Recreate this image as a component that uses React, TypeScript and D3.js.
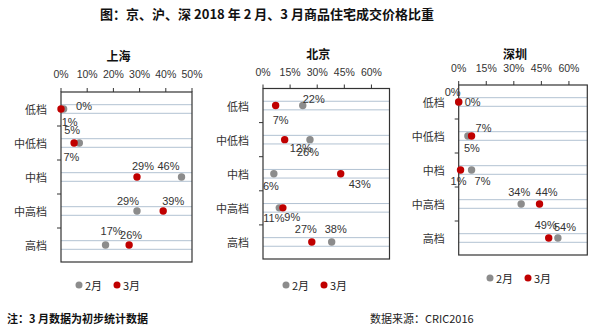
import React from "react";
import * as d3 from "d3";

const categories = ["低档", "中低档", "中档", "中高档", "高档"];
const seriesNames = ["2月", "3月"];
const seriesColors = ["#8c8c8c", "#c00000"];

const shFeb = [1, 7, 46, 29, 17];
const shMar = [0, 5, 29, 39, 26];
const bjFeb = [22, 26, 6, 9, 38];
const bjMar = [7, 12, 43, 11, 27];
const szFeb = [0, 5, 7, 34, 54];
const szMar = [0, 7, 1, 44, 49];

const shTicks = [0, 10, 20, 30, 40, 50];
const bjTicks = [0, 15, 30, 45, 60];
const szTicks = [0, 15, 30, 45, 60];

// label offsets (layout only) [dx, dy] per category
const shFebOff = [[6, 13], [-8, 14], [-13, -11], [-9, -10], [6, -14]];
const shMarOff = [[23, -3], [-2, -13], [6, -11], [10, -10], [2, -10]];
const bjFebOff = [[11, -7], [-2, 12], [-3, 12], [13, 9], [4, -13]];
const bjMarOff = [[5, 14], [16, 8], [19, 10], [-9, 10], [-6, -13]];
const szFebOff = [[-6, -10], [4, 12], [11, 11], [-2, -12], [7, -11]];
const szMarOff = [[14, 0], [12, -8], [-2, 11], [7, -12], [-3, -13]];

const panels = [
  { title: "上海", feb: shFeb, mar: shMar, ticks: shTicks, max: 50, x0: 61, x1: 192, y0: 92, y1: 262, titleY: 55, tickY: 74, legendY: 285, legendX: 79, febOff: shFebOff, marOff: shMarOff },
  { title: "北京", feb: bjFeb, mar: bjMar, ticks: bjTicks, max: 70, x0: 263, x1: 389.5, y0: 88.5, y1: 259, titleY: 53, tickY: 72, legendY: 285, legendX: 286, febOff: bjFebOff, marOff: bjMarOff },
  { title: "深圳", feb: szFeb, mar: szMar, ticks: szTicks, max: 70, x0: 458.7, x1: 587.3, y0: 85, y1: 255, titleY: 53, tickY: 68, legendY: 278, legendX: 490, febOff: szFebOff, marOff: szMarOff },
];

const FONT = "'Liberation Sans', Arial, 'Noto Sans CJK SC', sans-serif";
const CJK = "'Noto Sans CJK SC', sans-serif";

function Panel({ p }: { p: any }) {
  const x = d3.scaleLinear().domain([0, p.max]).range([p.x0, p.x1]);
  const y = d3.scaleBand().domain(categories).range([p.y0, p.y1]);
  const bw = y.bandwidth();
  const series = [
    { vals: p.feb, off: p.febOff, color: seriesColors[0] },
    { vals: p.mar, off: p.marOff, color: seriesColors[1] },
  ];
  return (
    <g>
      <text x={(p.x0 + p.x1) / 2 - 8} y={p.titleY} textAnchor="middle" dominantBaseline="central" fontSize={12} fontWeight="bold" fontFamily={CJK} fill="#111">{p.title}</text>
      {p.ticks.map((t: number) => (
        <g key={t}>
          <text x={x(t)} y={p.tickY} textAnchor="middle" dominantBaseline="central" fontSize={10.5} fontFamily={FONT} fill="#333">{t}%</text>
          <line x1={x(t)} x2={x(t)} y1={p.y0 - 4} y2={p.y0} stroke="#333" strokeWidth={1} />
        </g>
      ))}
      {categories.map((c) => {
        const cy = (y(c) as number) + bw / 2;
        return (
          <g key={c}>
            <line x1={p.x0} x2={p.x1} y1={cy - 4.3} y2={cy - 4.3} stroke="#b2c2d2" strokeWidth={1} />
            <line x1={p.x0} x2={p.x1} y1={cy + 4.3} y2={cy + 4.3} stroke="#b2c2d2" strokeWidth={1} />
            <text x={p.x0 - 14} y={cy} textAnchor="end" dominantBaseline="central" fontSize={11} fontFamily={CJK} fill="#333">{c}</text>
          </g>
        );
      })}
      {categories.slice(1).map((c) => (
        <line key={c} x1={p.x0 - 4} x2={p.x0} y1={y(c) as number} y2={y(c) as number} stroke="#333" />
      ))}
      <rect x={p.x0} y={p.y0} width={p.x1 - p.x0} height={p.y1 - p.y0} fill="none" stroke="#333" strokeWidth={1.2} />
      {series.map((s, si) => (
        <g key={si}>
          {s.vals.map((v: number, i: number) => (
            <circle key={i} cx={x(v)} cy={(y(categories[i]) as number) + bw / 2} r={3.7} fill={s.color} />
          ))}
        </g>
      ))}
      {series.map((s, si) => (
        <g key={"l" + si}>
          {s.vals.map((v: number, i: number) => (
            <text key={i} x={x(v) + s.off[i][0]} y={(y(categories[i]) as number) + bw / 2 + s.off[i][1]} textAnchor="middle" dominantBaseline="central" fontSize={11} fontFamily={FONT} fill="#333">{v}%</text>
          ))}
        </g>
      ))}
      {seriesNames.map((n, i) => (
        <g key={n}>
          <circle cx={p.legendX + i * 38} cy={p.legendY} r={3.5} fill={seriesColors[i]} />
          <text x={p.legendX + i * 38 + 6} y={p.legendY} dominantBaseline="central" fontSize={11} fontFamily={CJK} fill="#222">{n}</text>
        </g>
      ))}
    </g>
  );
}

export default function App() {
  return (
    <svg width={600} height={329} style={{ position: "absolute", left: 0, top: 0, background: "#fff" }}>
      <rect width={600} height={329} fill="#fff" />
      <text x={267} y={13} textAnchor="middle" dominantBaseline="central" fontSize={13} fontWeight="bold" fontFamily={CJK} fill="#111">图：京、沪、深 2018 年 2 月、3 月商品住宅成交价格比重</text>
      {panels.map((p) => <Panel key={p.title} p={p} />)}
      <text x={7} y={318} dominantBaseline="central" fontSize={11} fontWeight="bold" fontFamily={CJK} fill="#111">注：3 月数据为初步统计数据</text>
      <text x={370} y={318} dominantBaseline="central" fontSize={11} fontFamily={CJK} fill="#222">数据来源：CRIC2016</text>
    </svg>
  );
}
